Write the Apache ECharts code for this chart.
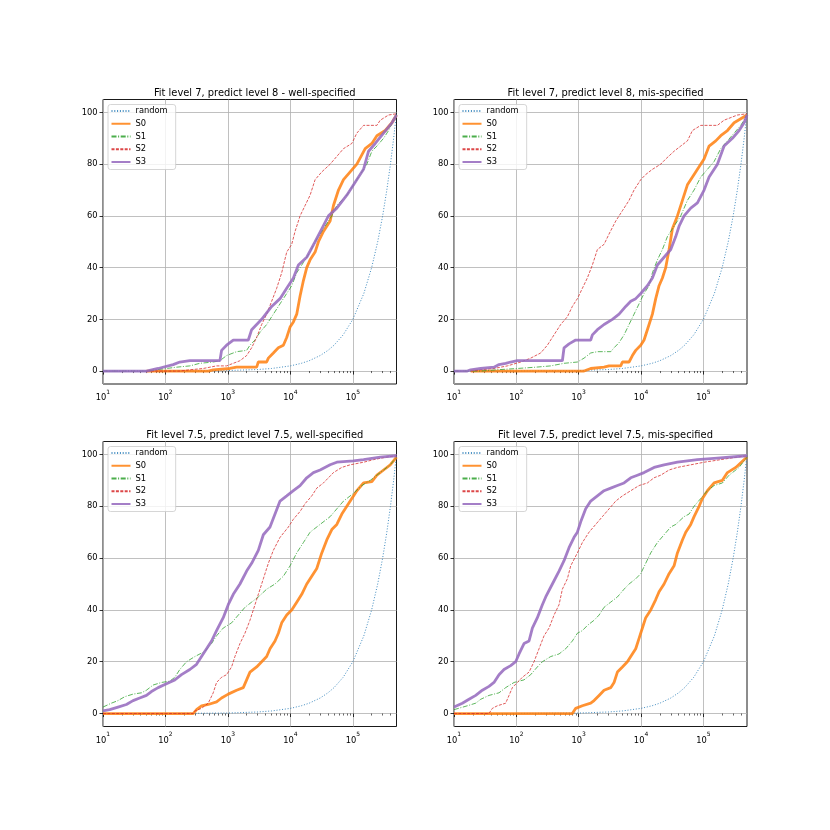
<!DOCTYPE html>
<html>
<head>
<meta charset="utf-8">
<script src="https://cdn.jsdelivr.net/npm/echarts@6/dist/echarts.min.js"></script>
<style>
html,body{margin:0;padding:0;background:#fff;}
#chart{width:830px;height:830px;}
</style>
</head>
<body>
<div id="chart"></div>
<script>
// ---- Data ----
const titles = [
  'Fit level 7, predict level 8 - well-specified',
  'Fit level 7, predict level 8, mis-specified',
  'Fit level 7.5, predict level 7.5, well-specified',
  'Fit level 7.5, predict level 7.5, mis-specified'
];
const seriesNames = ['random', 'S0', 'S1', 'S2', 'S3'];
const xTicks = [10, 100, 1000, 10000, 100000];
const yTicks = [0, 20, 40, 60, 80, 100];

const randomCurve = [[10,0.002],[100,0.02],[1000,0.2],[3000,0.6],[5000,1],[10000,2],[15000,3],[20000,4],[30000,6],[40000,8],[50000,10],[70000,14],[100000,20],[150000,30],[200000,40],[250000,50],[300000,60],[350000,70],[400000,80],[450000,90],[500000,100]];

// Top-left
const tlS0 = [[49.6,0],[484,0],[582,0.5],[1077,1],[1377,1.5],[2884,1.5],[3067,3.5],[4173,3.5],[4437,5],[5338,7],[6420,9],[7721,10],[8734,13],[9878,17],[11172,19],[12636,22],[14293,29],[16166,35],[18281,40],[20681,43],[24874,46],[28135,50],[33840,54],[43290,58],[48957,64],[58895,70],[70843,74],[90613,77],[115900,80],[157700,86],[201700,88],[242700,91],[330200,93],[422400,96],[500000,99]];
const tlS1 = [[10,0],[49.6,0],[71.7,0.5],[150,1.5],[245.7,2],[355.6,3],[581.7,3.5],[744.3,4],[952,6],[1377,7.5],[1993,8],[2254,10],[2712,12],[3262,15],[4173,18],[5338,22],[6827,26],[8734,30],[10505,33],[12636,38],[16166,42],[20681,46],[24874,50],[33840,55],[46037,60],[55376,64],[80114,68],[102500,72],[131100,76],[167700,80],[201700,85],[242700,87],[310500,90],[373500,93],[449200,97],[500000,99]];
const tlS2 = [[49.6,0],[169.8,0],[245.7,0.5],[402,1],[658,2],[952,2],[1218,3],[1558,4],[1993,6],[2398,9],[2884,13],[3469,18],[4173,22],[5019,27],[6035,32],[7261,38],[8734,46],[10505,49],[11882,54],[14293,60],[17192,64],[20681,68],[24874,74],[31820,77],[43290,80],[55376,83],[70843,86],[96383,88],[115900,92],[148300,95],[242700,95],[274500,97],[373500,99],[500000,99.5]];
const tlS3 = [[10,0],[49.6,0],[52.7,0.5],[76.3,1],[132.7,2.5],[169.8,3.5],[245.7,4],[744.3,4],[791.3,8],[952,10],[1218,12],[2120,12],[2398,16],[3469,20],[5019,25],[6827,28],[8734,32],[11172,36],[13438,41],[18281,44],[24874,50],[31820,55],[40704,60],[55376,63],[80114,68],[109000,73],[148300,78],[178400,85],[228200,88],[310500,92],[422400,96],[500000,99]];

// Top-right
const trS0 = [[18.5,0],[1218,0],[1377,0.5],[1558,1],[2550,1.5],[3067,2],[4719,2],[5019,3.5],[6420,3.5],[7261,6],[8211,8],[9878,10],[11172,12],[13438,18],[15200,22],[17192,28],[19446,33],[21993,36],[24874,40],[28135,47],[31820,55],[38275,60],[46037,66],[55376,72],[70843,76],[85207,79],[102500,82],[123300,87],[157700,89],[189700,91],[242700,93],[310500,96],[500000,99]];
const trS1 = [[10,0],[26.8,0],[49.6,0.5],[103.8,1],[204,1.5],[355.6,2],[582,3],[952,3.5],[1218,5],[1558,7],[1993,7.5],[3262,7.5],[3689,9],[4437,11],[5338,14],[6420,18],[7721,22],[9288,26],[11172,30],[13438,33],[15200,38],[18281,43],[21993,47],[26456,52],[31820,55],[43290,60],[55376,66],[70843,70],[90613,75],[115900,78],[148300,81],[189700,86],[242700,89],[310500,92],[397200,95],[500000,99]];
const trS2 = [[18.5,0],[26.8,0.5],[43.8,1],[71.7,2],[117.4,3.5],[169.8,5],[245.7,7],[314.4,10],[402,14],[514,18],[658,21],[791,25],[952,28],[1145,32],[1377,36],[1657,41],[1993,47],[2550,49],[3067,53],[3923,58],[5019,62],[6420,66],[7721,70],[9878,74],[11882,76],[15200,78],[20681,80],[24874,82],[33840,85],[43290,87],[55376,89],[66606,93],[90613,95],[167700,95],[214600,97],[351200,99],[500000,99.5]];
const trS3 = [[10,0],[16.4,0],[18.5,0.5],[26.8,1],[43.8,1.5],[52.7,2.5],[67.4,3],[81.1,3.5],[103.8,4],[547,4],[582,9],[700,10.5],[895,12],[1558,12],[1657,14],[1993,16],[2550,18],[3469,20],[4437,22],[5675,25],[6827,27],[8211,28],[9878,30],[12636,33],[15200,36],[18281,41],[23390,44],[29920,47],[35985,52],[40704,56],[48957,60],[62632,63],[80114,65],[102500,70],[123300,75],[167700,80],[214600,87],[291900,90],[373500,93],[449200,96],[500000,99]];

// Bottom-left
const blS0 = [[10,0],[277.9,0],[314.4,1.5],[378.1,3],[483.6,3.5],[658,4.5],[791.3,6],[1012,7.5],[1377,9],[1762,10],[1993,13],[2254,16],[2884,18],[3469,20],[4173,22],[4719,25],[5675,28],[6420,31],[7261,35],[8734,38],[10505,40],[12636,43],[15200,46],[18281,50],[21993,53],[26456,56],[31820,62],[38275,67],[46037,71],[55376,73],[66606,77],[80114,80],[96383,83],[115900,86],[148300,89],[201700,89.5],[242700,92],[310500,94],[397200,96],[500000,99]];
const blS1 = [[10,2.5],[13.6,4],[17.4,5],[22.3,6.5],[30.3,7.5],[41.2,8],[49.6,9],[63.4,11],[86.3,12],[117.4,12.5],[141.2,14],[169.8,17],[217.3,20],[295.6,22],[427.6,24],[547,27],[658,30],[841.6,33],[1145,35],[1465,38],[1874,41],[2398,43],[3067,45],[4173,48],[5675,50],[7721,53],[9878,57],[12636,62],[16166,66],[20681,70],[29920,73],[43290,76],[55376,79],[70843,82],[102500,85],[139500,88],[189700,90],[274500,93],[397200,96],[500000,99]];
const blS2 = [[10,0],[277.9,0],[295.6,1],[378.1,2],[483.6,4],[581.7,8],[658,12],[791.3,14],[952,15],[1145,18],[1295,22],[1558,27],[1874,31],[2254,36],[2712,42],[3262,48],[3689,52],[4437,58],[5338,63],[6827,68],[9288,72],[11172,75],[14293,78],[17192,81],[21993,84],[26456,87],[33840,89],[40704,91],[48957,93],[66606,95],[90613,96],[148300,97],[214600,98],[351200,99],[500000,99.5]];
const blS3 = [[10,1],[12.8,1.5],[17.4,2.5],[23.7,3.5],[30.3,5],[38.7,6],[49.6,7],[59.6,8.5],[76.3,10],[103.8,11.5],[141.2,13],[180.6,15],[245.7,17],[314.4,19],[378.1,22],[454.9,25],[547,28],[658,32],[841.6,37],[1012,42],[1218,46],[1558,50],[1993,55],[2398,58],[3067,63],[3689,69],[4719,72],[5675,77],[6827,82],[8734,84],[11172,86],[14293,88],[18281,91],[23390,93],[29920,94],[43290,96],[55376,97],[102500,97.5],[148300,98],[274500,99],[500000,99.5]];

// Bottom-right
const brS0 = [[10,0],[791.3,0],[895,2],[1145,3],[1558,4],[1762,5],[2120,7],[2550,9],[3262,10],[3689,12],[4173,16],[5019,18],[6035,20],[6827,22],[8211,25],[9288,29],[10505,33],[11882,37],[14293,40],[17192,44],[19446,47],[23390,50],[28135,54],[33840,57],[38275,62],[46037,67],[52073,70],[62632,73],[70843,76],[85207,80],[96383,83],[115900,86],[148300,89],[201700,90],[242700,93],[330200,95],[500000,99]];
const brS1 = [[10,1.5],[16.4,3],[22.3,4],[26.8,5.5],[36.4,7],[52.7,8],[67.4,10],[91.8,12],[132.7,13],[169.8,15],[217.3,18],[261.3,20],[355.6,22],[483.6,23],[618.6,25],[791.3,28],[952,31],[1145,32],[1377,34],[1762,36],[2120,38],[2550,41],[3262,43],[4173,45],[5338,48],[6420,50],[8211,52],[9878,54],[11882,58],[14293,62],[18281,66],[23390,69],[29920,72],[35985,73],[48957,76],[58895,77],[70843,80],[90613,83],[115900,86],[148300,88],[201700,89],[258100,92],[373500,95],[500000,99]];
const brS2 = [[10,0],[36.4,0],[41.2,2],[49.6,3],[67.4,4],[76.3,7],[86.3,10],[103.8,12],[124.8,14],[159.7,16],[192,20],[231,25],[277.9,30],[334.3,33],[402,38],[483.6,42],[547,48],[658,52],[744,57],[952,62],[1145,66],[1465,70],[1874,73],[2398,76],[3067,79],[3923,82],[5019,84],[6827,86],[9288,88],[12636,89],[16166,91],[20681,92],[28135,94],[38275,95],[62632,96],[102500,97],[189700,98],[351200,99],[500000,99.5]];
const brS3 = [[10,2.5],[13.6,4],[17.4,5.5],[22.3,7],[28.5,9],[36.4,10.5],[43.8,12],[52.7,15],[63.4,17],[81.1,18.5],[97.6,20],[110.4,23],[132.7,27],[159.7,28],[180.6,33],[217.3,37],[261.3,42],[295.6,45],[378.1,50],[483.6,55],[581.7,59],[699.7,64],[841.6,68],[952,70],[1077,74],[1295,79],[1558,82],[1993,84],[2550,86],[3262,87],[4173,88],[5338,89],[6827,91],[8734,92],[11172,93],[16166,95],[23390,96],[38275,97],[80114,98],[148300,98.5],[500000,99.5]];

const panels = [
  [randomCurve, tlS0, tlS1, tlS2, tlS3],
  [randomCurve, trS0, trS1, trS2, trS3],
  [randomCurve, blS0, blS1, blS2, blS3],
  [randomCurve, brS0, brS1, brS2, brS3]
];

// ---- Styling / layout ----
const FONT = 'DejaVu Sans';
const gridBoxes = [
  {left: 103, top: 99.5, width: 293.5, height: 284.5},
  {left: 454, top: 99.5, width: 293, height: 284.5},
  {left: 103, top: 441.5, width: 293.5, height: 285},
  {left: 454, top: 441.5, width: 293, height: 285}
];
const styles = [
  {color: '#1f77b4', width: 1, type: [1, 1.8]},
  {color: '#ff7f0e', width: 2.8, type: 'solid'},
  {color: '#2ca02c', width: 0.9, type: [5, 1.6, 1, 1.6]},
  {color: '#d62728', width: 0.9, type: [3, 1.4]},
  {color: '#9467bd', width: 2.8, type: 'solid'}
];

const chart = echarts.init(document.getElementById('chart'), null, {renderer: 'canvas'});

const grid = [], xAxis = [], yAxis = [], series = [], title = [], legend = [];
gridBoxes.forEach((g, i) => {
  grid.push(Object.assign({show: true, borderColor: '#000', borderWidth: 0.9, backgroundColor: 'transparent', containLabel: false}, g));
  title.push({
    text: titles[i], left: g.left + g.width / 2, top: g.top - 16, textAlign: 'center',
    textStyle: {fontFamily: FONT, fontSize: 9.9, fontWeight: 'normal', color: '#000'}
  });
  xAxis.push({
    type: 'log', logBase: 10, min: 10, max: 500000, gridIndex: i,
    axisLine: {show: false},
    axisTick: {show: true, customValues: xTicks, length: 3.5, lineStyle: {color: '#000', width: 0.8}},
    minorTick: {show: true, splitNumber: 9, length: 2, lineStyle: {color: '#000', width: 0.6}},
    splitLine: {show: true, lineStyle: {color: '#b0b0b0', width: 0.8}},
    minorSplitLine: {show: false},
    axisLabel: {
      customValues: xTicks, margin: 5, color: '#000',
      formatter: v => '{b|10}{e|' + Math.round(Math.log10(v)) + '}',
      rich: {
        b: {fontFamily: FONT, fontSize: 8.3, color: '#000', lineHeight: 13, verticalAlign: 'bottom'},
        e: {fontFamily: FONT, fontSize: 6, color: '#000', lineHeight: 8, verticalAlign: 'top'}
      }
    }
  });
  yAxis.push({
    type: 'value', min: -5, max: 105, gridIndex: i,
    axisLine: {show: false},
    axisTick: {show: true, customValues: yTicks, length: 3.5, lineStyle: {color: '#000', width: 0.8}},
    splitLine: {show: true, lineStyle: {color: '#b0b0b0', width: 0.8}},
    axisLabel: {customValues: yTicks, margin: 5.5, fontFamily: FONT, fontSize: 8.3, color: '#000'}
  });
  panels[i].forEach((data, k) => {
    const s = styles[k];
    series.push({
      name: seriesNames[k], type: 'line', xAxisIndex: i, yAxisIndex: i,
      data: data, showSymbol: false, symbol: 'none', animation: false, silent: true,
      z: 2 + k,
      lineStyle: {color: s.color, width: s.width, type: s.type, opacity: 0.85},
      itemStyle: {color: s.color}
    });
  });
  legend.push({
    data: seriesNames, orient: 'vertical', left: g.left + 5, top: g.top + 5,
    itemWidth: 19, itemHeight: 10, itemGap: 2.75,
    padding: [1.5, 8, 2.5, 2.5],
    backgroundColor: 'rgba(255,255,255,0.8)', borderColor: '#cccccc', borderWidth: 0.8, borderRadius: 2.5,
    itemStyle: {color: 'transparent', borderWidth: 0, opacity: 0},
    textStyle: {fontFamily: FONT, fontSize: 8.3, color: '#000', lineHeight: 10},
    selectedMode: false
  });
});

chart.setOption({
  backgroundColor: '#fff',
  animation: false,
  title, grid, xAxis, yAxis, legend, series
});
</script>
</body>
</html>
